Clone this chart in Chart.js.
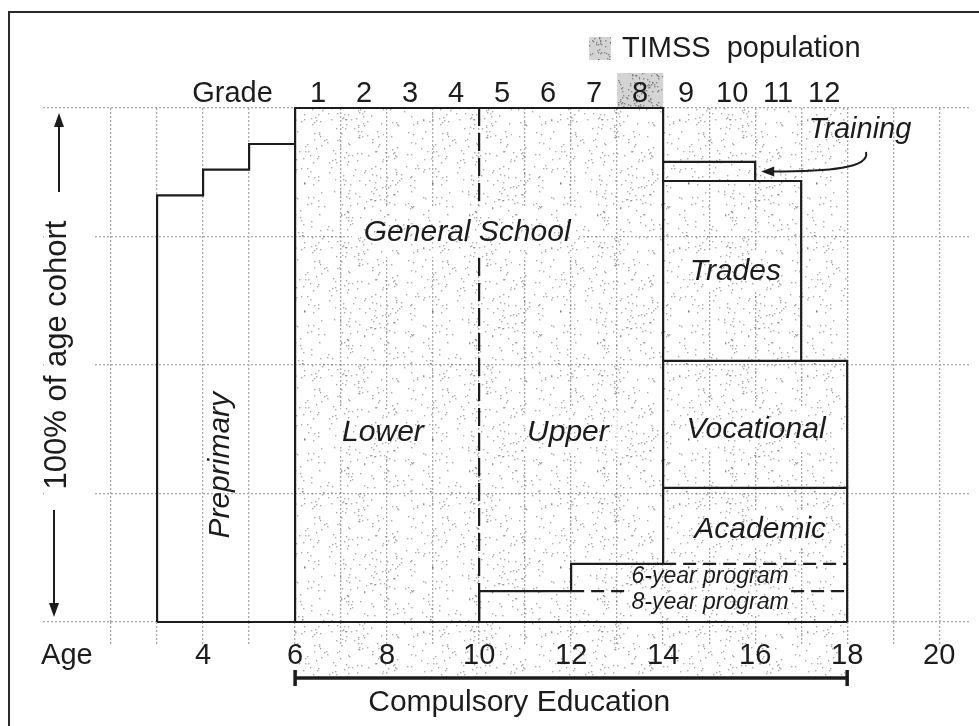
<!DOCTYPE html>
<html>
<head>
<meta charset="utf-8">
<script src="https://cdn.jsdelivr.net/npm/chart.js@4.4.1/dist/chart.umd.min.js"></script>
<style>
  html, body { margin: 0; padding: 0; background: #fff; }
  canvas { display: block; }
</style>
</head>
<body>
<canvas id="chart" width="979" height="726"></canvas>
<script>
// axes
const ageLabels = [4, 6, 8, 10, 12, 14, 16, 18, 20];
const gridAges = [2, 3, 4, 5, 6, 7, 8, 9, 10, 11, 12, 13, 14, 15, 16, 17, 18, 19, 20];
const grades = ['1', '2', '3', '4', '5', '6', '7', '8', '9', '10', '11', '12'];
const firstGradeAge = 6;
const timssGrade = '8';

// preprimary: share of the age cohort enrolled, one value per year of age
const preprimaryAges = [3, 4, 5, 6];
const preprimaryShare = [83, 88, 93];

// general school (ages 6-14), split into lower / upper at age 10
const generalSchool = [6, 14];
const upperStartAge = 10;
const compulsoryAges = [6, 18];

// upper secondary tracks from age 14, stacked (top edge in % of cohort)
const tracks = ['Academic', 'Vocational', 'Trades', 'Training'];
const trackEndAge = [18, 18, 17, 16];
const trackTop = [26.1, 50.8, 85.8, 89.5];

// long academic programs entered before age 14
const longPrograms = ['6-year program', '8-year program'];
const longStartAge = [12, 10];
const longTop = [11.3, 6];

const FONT = '"Liberation Sans", Arial, sans-serif';
Chart.defaults.font.family = FONT;
const INK = '#1c1c1c';
const GRID = '#a9a9a9';

const ctx = document.getElementById('chart').getContext('2d');

function makeStipple(base, dot, count, size, seed) {
    let c = document.createElement('canvas');
    c.width = c.height = size;
    let g = c.getContext('2d');
    if (base) { g.fillStyle = base; g.fillRect(0, 0, size, size); }
    g.fillStyle = dot;
    let s = seed;
    for (let i = 0; i < count; i++) {
        s = (s * 16807) % 2147483647;
        let x = s % size;
        s = (s * 16807) % 2147483647;
        let y = s % size;
        g.fillRect(x, y, 1.4, 1.4);
    }
    return ctx.createPattern(c, 'repeat');
}
const dots = makeStipple(null, 'rgba(70,70,70,0.45)', 300, 128, 11);
const darkDots = makeStipple('#d4d4d4', 'rgba(60,60,60,0.5)', 240, 64, 5);

// dashed: indexes of the segments drawn dashed
function outline(points, dashed, dash) {
    return {
        type: 'line',
        data: points,
        borderColor: INK,
        borderWidth: 2.2,
        borderDash: dashed.length ? dash : [],
        pointRadius: 0,
        fill: false,
        tension: 0,
        clip: false,
        order: 0,
        segment: {
            borderDash: c => dashed.includes(c.p0DataIndex) ? dash : []
        }
    };
}

let datasets = [];

// stippled area of compulsory schooling
datasets.push({
    type: 'line',
    data: [{x: compulsoryAges[0], y: 100}, {x: compulsoryAges[1], y: 100}],
    fill: 'origin',
    backgroundColor: dots,
    borderColor: 'rgba(0,0,0,0)',
    pointRadius: 0,
    order: 1
});

// preprimary steps
let pre = [{x: preprimaryAges[0], y: 0}];
preprimaryShare.forEach((v, i) => {
    pre.push({x: preprimaryAges[i], y: v});
    pre.push({x: preprimaryAges[i + 1], y: v});
});
datasets.push(outline(pre, [], []));

// base line
datasets.push(outline([{x: preprimaryAges[0], y: 0}, {x: compulsoryAges[1], y: 0}], [], []));

// general school box
datasets.push(outline([
    {x: generalSchool[0], y: 0}, {x: generalSchool[0], y: 100},
    {x: generalSchool[1], y: 100}, {x: generalSchool[1], y: longTop[0]}
], [], []));

// lower / upper split
datasets.push(outline([
    {x: upperStartAge, y: 100}, {x: upperStartAge, y: longTop[1]}, {x: upperStartAge, y: 0}
], [0], [18, 7]));

// long programs
longPrograms.forEach((name, i) => {
    let bottom = i + 1 < longTop.length ? longTop[i + 1] : 0;
    let solidEnd = i === 0 ? generalSchool[1] : longStartAge[i - 1];
    datasets.push(outline([
        {x: longStartAge[i], y: bottom}, {x: longStartAge[i], y: longTop[i]},
        {x: solidEnd, y: longTop[i]}, {x: compulsoryAges[1], y: longTop[i]}
    ], [2], [13, 7]));
});

// upper secondary tracks
tracks.forEach((name, i) => {
    let bottom = i > 0 ? trackTop[i - 1] : 0;
    datasets.push(outline([
        {x: generalSchool[1], y: trackTop[i]}, {x: trackEndAge[i], y: trackTop[i]},
        {x: trackEndAge[i], y: bottom}
    ], [], []));
});

// text placed in age / percent coordinates
const labels = [
    {text: 'General School', x: 9.74, y: 75.7, size: 30, knock: [12, 26]},
    {text: 'Lower', x: 7.91, y: 36.8, size: 30, knock: [8, 24]},
    {text: 'Upper', x: 11.93, y: 36.8, size: 30, knock: [8, 24]},
    {text: 'Trades', x: 15.57, y: 68.1, size: 30, knock: [8, 22]},
    {text: 'Vocational', x: 16.02, y: 37.4, size: 30, knock: [6, 22]},
    {text: 'Academic', x: 16.11, y: 17.9, size: 30, knock: [6, 18]},
    {text: '6-year program', x: 15.02, y: 8.75, size: 23, knock: null},
    {text: '8-year program', x: 15.02, y: 3.7, size: 23, knock: [2, 15]},
    {text: 'Training', x: 18.28, y: 95.7, size: 29, knock: null},
    {text: 'Preprimary', x: 4.39, y: 30.5, size: 30, knock: null, rotate: true}
];

const decorations = {
    id: 'decorations',
    beforeDraw(chart) {
        const c = chart.ctx, xs = chart.scales.x, ys = chart.scales.y;
        c.save();
        c.fillStyle = '#fff';
        c.fillRect(0, 0, chart.width, chart.height);
        // frame
        c.strokeStyle = '#2a2a2a';
        c.lineWidth = 2;
        c.strokeRect(9, 12, chart.width + 20, chart.height + 20);
        // stipple below the axis, down to the compulsory bracket
        let a = xs.getPixelForValue(compulsoryAges[0]), b = xs.getPixelForValue(compulsoryAges[1]);
        c.fillStyle = dots;
        c.fillRect(a, ys.getPixelForValue(0), b - a, 56);
        // TIMSS grade highlight
        let gAge = firstGradeAge + grades.indexOf(timssGrade);
        let g0 = xs.getPixelForValue(gAge), g1 = xs.getPixelForValue(gAge + 1);
        c.fillStyle = darkDots;
        c.fillRect(g0, 73, g1 - g0, chart.chartArea.top - 73);
        c.fillRect(589, 37, 22, 23);
        c.restore();
    },
    beforeDatasetsDraw(chart) {
        const c = chart.ctx;
        c.save();
        c.fillStyle = '#fff';
        c.fillRect(44, 111, 49, 508);
        c.strokeStyle = INK;
        c.fillStyle = INK;
        c.lineWidth = 2;
        // arrows
        c.beginPath(); c.moveTo(59, 192); c.lineTo(59, 122); c.stroke();
        c.beginPath(); c.moveTo(59, 113); c.lineTo(54, 127); c.lineTo(64, 127); c.closePath(); c.fill();
        c.beginPath(); c.moveTo(54, 510); c.lineTo(54, 606); c.stroke();
        c.beginPath(); c.moveTo(54, 617); c.lineTo(49, 603); c.lineTo(59, 603); c.closePath(); c.fill();
        c.translate(57, 355);
        c.rotate(-Math.PI / 2);
        c.font = '31px ' + FONT;
        c.textAlign = 'center';
        c.textBaseline = 'middle';
        c.fillText('100% of age cohort', 0, 0);
        c.restore();
    },
    afterDatasetsDraw(chart) {
        const c = chart.ctx, xs = chart.scales.x, ys = chart.scales.y;
        c.save();
        c.textAlign = 'center';
        c.textBaseline = 'middle';
        labels.forEach(l => {
            let px = xs.getPixelForValue(l.x), py = ys.getPixelForValue(l.y);
            c.font = 'italic ' + l.size + 'px ' + FONT;
            if (l.knock) {
                let w = c.measureText(l.text).width;
                let kx = px - w / 2 - l.knock[0], kw = w + 2 * l.knock[0];
                c.fillStyle = '#fff';
                c.fillRect(kx, py - l.knock[1], kw, 2 * l.knock[1] - 2);
                c.fillStyle = dots;
                c.fillRect(kx, py - l.knock[1], kw, 2 * l.knock[1] - 2);
            }
            c.fillStyle = INK;
            if (l.rotate) {
                c.save();
                c.translate(px, py);
                c.rotate(-Math.PI / 2);
                c.fillText(l.text, 0, 0);
                c.restore();
            } else {
                c.fillText(l.text, px, py);
            }
        });

        // training arrow
        let tip = xs.getPixelForValue(trackEndAge[3]) + 6;
        let ty = ys.getPixelForValue((trackTop[2] + trackTop[3]) / 2);
        c.strokeStyle = INK;
        c.fillStyle = INK;
        c.lineWidth = 2;
        c.beginPath();
        c.moveTo(866, 152);
        c.bezierCurveTo(870, 168, 830, ty, tip + 10, ty);
        c.stroke();
        c.beginPath();
        c.moveTo(tip, ty); c.lineTo(tip + 13, ty - 5); c.lineTo(tip + 13, ty + 5); c.closePath(); c.fill();

        // compulsory education bracket
        let a = xs.getPixelForValue(compulsoryAges[0]), b = xs.getPixelForValue(compulsoryAges[1]);
        c.lineWidth = 3.5;
        c.beginPath();
        c.moveTo(a, 678); c.lineTo(b, 678);
        c.moveTo(a, 670); c.lineTo(a, 686);
        c.moveTo(b, 670); c.lineTo(b, 686);
        c.stroke();
        c.font = '30px ' + FONT;
        c.textAlign = 'left';
        c.fillText('Compulsory Education', xs.getPixelForValue(7.59), 703);

        // legend
        c.font = '29px ' + FONT;
        c.fillText('TIMSS  population', 622, 49);
        c.restore();
    }
};

const X_MIN = 0.52, X_MAX = 20.67;

new Chart(ctx, {
    type: 'line',
    data: {datasets: datasets},
    options: {
        responsive: false,
        animation: false,
        devicePixelRatio: 1,
        layout: {padding: {left: 43, right: 9, top: 0, bottom: 0}},
        plugins: {legend: {display: false}, tooltip: {enabled: false}},
        scales: {
            x: {
                type: 'linear',
                position: 'bottom',
                min: X_MIN,
                max: X_MAX,
                afterFit: s => { s.height = 104; },
                afterBuildTicks: s => {
                    s.ticks = [{value: 1.04}].concat(gridAges.map(v => ({value: v})));
                },
                ticks: {
                    autoSkip: false,
                    maxRotation: 0,
                    padding: -5,
                    color: INK,
                    font: {size: 29},
                    callback: (v, i) => i === 0 ? 'Age' : (ageLabels.includes(v) ? String(v) : '')
                },
                grid: {
                    color: c => c.index === 0 ? 'rgba(0,0,0,0)' : GRID,
                    tickColor: c => c.index === 0 ? 'rgba(0,0,0,0)' : GRID,
                    lineWidth: 1.3,
                    drawTicks: true,
                    tickLength: 22,
                    tickBorderDash: [2, 2]
                },
                border: {display: false, dash: [2, 2]}
            },
            x2: {
                type: 'linear',
                position: 'top',
                min: X_MIN,
                max: X_MAX,
                afterFit: s => { s.height = 108; },
                afterBuildTicks: s => {
                    s.ticks = [{value: 4.64}].concat(grades.map((g, i) => ({value: firstGradeAge + i + 0.5})));
                },
                ticks: {
                    autoSkip: false,
                    maxRotation: 0,
                    padding: -3,
                    color: INK,
                    font: {size: 29},
                    callback: (v, i) => i === 0 ? 'Grade' : grades[i - 1]
                },
                grid: {display: false, drawTicks: false},
                border: {display: false}
            },
            y: {
                min: 0,
                max: 100,
                afterFit: s => { s.width = 0; },
                ticks: {stepSize: 25, display: false},
                grid: {color: GRID, lineWidth: 1.3, drawTicks: false},
                border: {display: false, dash: [2, 2]}
            }
        }
    },
    plugins: [decorations]
});
</script>
</body>
</html>
